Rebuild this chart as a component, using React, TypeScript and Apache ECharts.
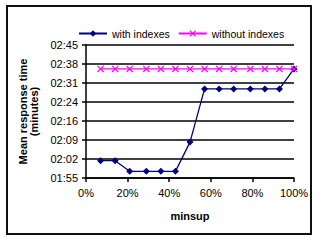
import React, { useEffect, useRef } from "react";
import * as echarts from "echarts";

const minsup = [7, 14, 21, 29, 36, 43, 50, 57, 64, 71, 79, 86, 93, 100];
// mean response time in seconds
const withIndexes = [121.5, 121.5, 117.5, 117.5, 117.5, 117.5, 128.5, 148.5, 148.5, 148.5, 148.5, 148.5, 148.5, 156];
const withoutIndexes = [156, 156, 156, 156, 156, 156, 156, 156, 156, 156, 156, 156, 156, 156];
const yMinSec = 115; // 01:55
const yMaxSec = 165; // 02:45
const ySteps = 7;

const fmt = (v: number) => {
  const t = Math.round(v + yMinSec);
  const m = Math.floor(t / 60);
  const s = t % 60;
  return `${String(m).padStart(2, "0")}:${String(s).padStart(2, "0")}`;
};

const xMark = "path://M0,1.2L1.2,0L10,8.8L8.8,10Z M8.8,0L10,1.2L1.2,10L0,8.8Z";

export default function App() {
  const ref = useRef<HTMLDivElement>(null);
  useEffect(() => {
    const chart = echarts.init(ref.current!, null, { renderer: "svg" });
    const font = "Liberation Sans, Arial, sans-serif";
    chart.setOption({
      animation: false,
      textStyle: { fontFamily: font, color: "#000" },
      graphic: [
        {
          type: "rect",
          shape: { x: 7, y: 6, width: 304, height: 228 },
          style: { fill: "none", stroke: "#111", lineWidth: 2 },
        },
      ],
      legend: {
        left: 73,
        top: 23,
        itemWidth: 28,
        itemHeight: 8,
        itemGap: 8,
        textStyle: { fontSize: 10.5, color: "#000", fontFamily: font },
        data: ["with indexes", "without indexes"],
      },
      grid: { left: 86, right: 27, top: 45, bottom: 64, containLabel: false },
      xAxis: {
        type: "value",
        min: 0,
        max: 100,
        interval: 20,
        name: "minsup",
        nameLocation: "middle",
        nameGap: 32,
        nameTextStyle: { fontSize: 11, fontWeight: "bold", color: "#000" },
        axisLine: { show: true, lineStyle: { color: "#000", width: 1.5 } },
        axisTick: { show: true, length: 4, lineStyle: { color: "#000", width: 1.5 } },
        axisLabel: { formatter: "{value}%", fontSize: 11, color: "#000", margin: 9 },
        splitLine: { show: false },
      },
      yAxis: {
        type: "value",
        min: 0,
        max: yMaxSec - yMinSec,
        interval: (yMaxSec - yMinSec) / ySteps,
        name: "Mean response time\n(minutes)",
        nameLocation: "middle",
        nameRotate: 90,
        nameGap: 39,
        nameTextStyle: { fontSize: 11, fontWeight: "bold", color: "#000", lineHeight: 11 },
        axisLine: { show: true, lineStyle: { color: "#000", width: 1.5 } },
        axisTick: { show: true, length: 4, lineStyle: { color: "#000", width: 1.5 } },
        axisLabel: { formatter: fmt, fontSize: 11, color: "#000", margin: 8 },
        splitLine: { show: true, lineStyle: { color: "#000", width: 1.5 } },
      },
      series: [
        {
          name: "with indexes",
          type: "line",
          data: minsup.map((x, i) => [x, withIndexes[i] - yMinSec]),
          color: "#000080",
          lineStyle: { width: 1.3, color: "#000080" },
          symbol: "diamond",
          symbolSize: 7,
          itemStyle: { color: "#000080" },
          z: 3,
        },
        {
          name: "without indexes",
          type: "line",
          data: minsup.map((x, i) => [x, withoutIndexes[i] - yMinSec]),
          color: "#FF00FF",
          lineStyle: { width: 1.3, color: "#FF00FF" },
          symbol: xMark,
          symbolSize: 7,
          itemStyle: { color: "#FF00FF" },
          z: 4,
        },
      ],
    });
    return () => chart.dispose();
  }, []);
  return (
    <div
      ref={ref}
      style={{ position: "fixed", left: 0, top: 0, width: 321, height: 242, background: "#fff" }}
    />
  );
}
